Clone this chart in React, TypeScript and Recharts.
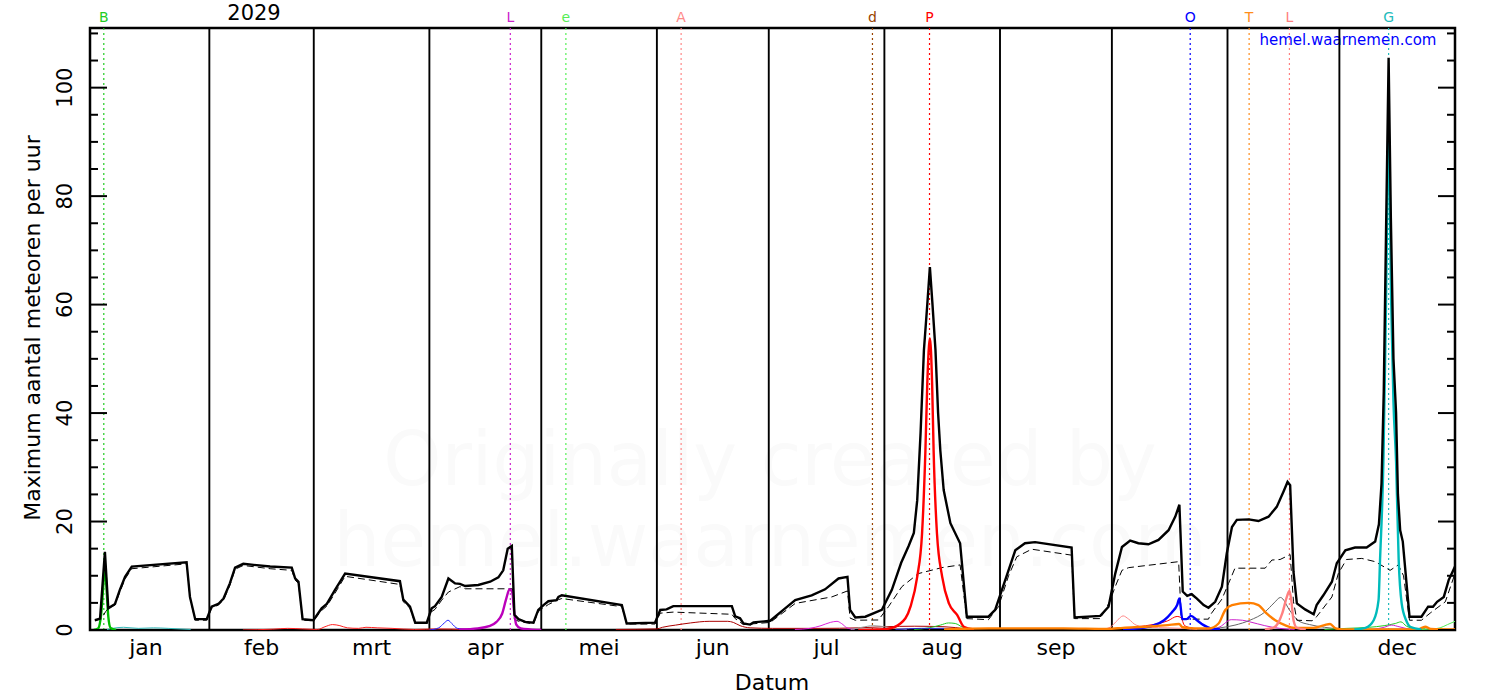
import React from 'react'
import {
  LineChart,
  Line,
  XAxis,
  YAxis,
  ReferenceLine,
  ReferenceArea,
} from 'recharts'

// day 0 = 1 jan 2029
const MONTHS = ['jan', 'feb', 'mrt', 'apr', 'mei', 'jun', 'jul', 'aug', 'sep', 'okt', 'nov', 'dec']
const MONTH_MID = [14, 45, 74.5, 105, 135.5, 166, 196.5, 227.5, 258, 288.5, 319, 349.5]
const MONTH_STARTS = [31, 59, 90, 120, 151, 181, 212, 243, 273, 304, 334]
const Y_TICKS = [0, 5, 10, 15, 20, 25, 30, 35, 40, 45, 50, 55, 60, 65, 70, 75, 80, 85, 90, 95, 100, 105, 110]

const SHOWER_LETTERS = ['B', 'L', 'e', 'A', 'd', 'P', 'O', 'T', 'L', 'G']
const SHOWER_DAYS = [2.7, 111.7, 126.6, 157.5, 208.8, 224.1, 294, 309.8, 320.6, 347.2]
const SHOWER_COLORS = ['#22cc22', '#cc22cc', '#55ee55', '#ff8888', '#994400', '#ff0000', '#0000ff', '#ff8c1a', '#ff8080', '#22bbbb']

// totaal (zwart) en achtergrond (gestreept)
const total: [number, number][] = [
  [0.3, 1.8], [1.7, 2.1], [3.0, 14.4], [3.9, 4.0], [5.7, 4.8], [7.0, 7.4], [8.4, 9.8], [10.2, 11.7],
  [24.9, 12.5], [25.8, 6.1], [27.2, 2.0], [30.3, 2.0], [31.6, 4.3], [33.4, 4.8], [34.8, 5.8], [36.5, 8.6],
  [37.9, 11.5], [40.1, 12.2], [47.3, 11.7], [53.1, 11.5], [54.0, 9.5], [54.9, 8.9], [56.0, 2.0], [58.9, 1.8],
  [61.1, 4.0], [62.5, 4.8], [64.7, 7.4], [67.4, 10.4], [82.1, 9.0], [83.0, 5.6], [84.8, 4.3], [86.2, 1.35],
  [89.3, 1.35], [90.6, 4.0], [91.5, 4.4], [93.3, 6.1], [95.1, 9.5], [96.9, 8.6], [98.2, 8.5], [99.6, 8.1],
  [103.1, 8.3], [106.3, 8.9], [108.5, 9.7], [109.8, 11.0], [111.0, 15.0], [112.1, 15.5], [112.8, 2.8],
  [113.9, 2.0], [115.7, 1.5], [117.9, 1.35], [119.2, 3.7], [120.6, 4.6], [121.9, 5.3], [124.1, 5.5],
  [124.6, 6.1], [125.5, 6.4], [141.6, 4.6], [142.9, 1.2], [150.5, 1.35], [151.9, 3.7], [153.6, 3.8],
  [155.4, 4.4], [171.1, 4.4], [172.0, 2.5], [173.3, 2.15], [174.2, 1.2], [176.0, 1.0], [176.9, 1.4],
  [181.4, 1.7], [182.7, 2.45], [184.9, 3.7], [188.1, 5.5], [192.5, 6.4], [196.1, 7.5], [199.7, 9.5],
  [202.1, 9.8], [202.8, 3.7], [204.2, 2.3], [206.9, 2.45], [211.3, 3.7], [214.0, 7.4], [216.5, 12.4],
  [218.5, 15.5], [219.9, 17.9], [220.8, 23.9], [221.7, 36.3], [222.6, 51.6], [223.5, 60], [224.2, 66.9],
  [224.9, 60], [225.7, 51.6], [226.4, 40], [227.0, 33.1], [227.9, 25.8], [229.7, 19.7], [232.3, 16.0],
  [234.1, 2.45], [239.9, 2.45], [241.7, 3.7], [244.4, 9.2], [247.1, 14.7], [249.7, 16.0], [252.4, 16.2],
  [262.2, 15.2], [263.0, 2.3], [269.9, 2.6], [272.1, 4.3], [273.9, 10.4], [275.7, 15.3], [277.9, 16.5],
  [280.1, 16.0], [282.8, 15.8], [285.5, 16.6], [288.2, 18.4], [290.0, 20.9], [291.1, 23.1], [292.0, 7.1],
  [293.2, 6.3], [294.4, 6.6], [295.8, 5.8], [297.6, 4.6], [298.9, 4.1], [300.7, 5.2], [302.5, 8.0],
  [303.8, 14.1], [305.2, 19.0], [306.5, 20.3], [309.7, 20.4], [312.3, 20.1], [315.0, 20.9], [317.2, 22.7],
  [319.0, 25.5], [320.1, 27.3], [320.8, 26.7], [321.7, 10.7], [322.6, 4.9], [324.8, 3.8], [327.1, 2.9],
  [327.9, 4.6], [329.7, 6.4], [332.0, 8.9], [333.3, 12.3], [335.6, 14.7], [338.2, 15.2], [341.3, 15.2],
  [343.6, 16.3], [344.6, 19.5], [345.3, 27], [345.9, 44], [346.5, 73], [347.2, 105.5], [347.8, 76],
  [348.5, 50], [349.2, 40], [349.7, 25], [350.3, 18.4], [351.0, 16.3], [352.8, 2.45], [356.0, 2.45],
  [357.8, 4.3], [359.1, 4.3], [360.2, 5.2], [362.0, 6.1], [363.3, 9.2], [365.0, 11.7],
]

const background: [number, number][] = [
  [0.3, 1.8], [2, 2.0], [3.2, 3.4], [3.9, 4.0], [5.7, 4.6], [7.0, 7.0], [8.4, 9.4], [10.2, 11.3],
  [24.9, 12.2], [25.8, 6.0], [27.2, 1.8], [30.3, 1.8], [31.6, 4.0], [33.4, 4.6], [34.8, 5.5], [36.5, 8.2],
  [37.9, 11.2], [40.1, 11.9], [47.3, 11.3], [53.1, 11.0], [54.0, 9.2], [54.9, 8.6], [56.0, 1.8], [58.9, 1.7],
  [61.1, 3.6], [62.5, 4.4], [64.7, 6.8], [67.4, 9.9], [82.1, 8.4], [83.0, 5.2], [84.8, 4.0], [86.2, 1.2],
  [89.3, 1.2], [90.2, 3.2], [91.5, 3.8], [93.3, 5.5], [95.1, 7.0], [98.2, 8.0], [99.6, 7.6], [112.3, 7.6],
  [112.8, 2.0], [113.9, 1.6], [117.9, 1.1], [119.2, 3.4], [121.9, 4.7], [124.6, 5.6], [125.5, 5.8],
  [141.6, 4.3], [142.9, 1.1], [150.5, 1.1], [151.9, 3.1], [155.4, 3.3], [171.1, 2.9], [172.0, 2.1],
  [174.2, 1.0], [181.4, 1.4], [188.1, 4.9], [197.9, 6.1], [202.1, 7.2], [202.8, 2.2], [204.2, 1.8],
  [210.4, 1.85], [213.1, 4.3], [216.7, 8.0], [221.1, 10.4], [227.4, 11.5], [232.3, 12.0], [234.1, 2.1],
  [239.9, 1.9], [242.6, 4.3], [245.3, 10], [247.5, 13.5], [251.5, 14.9], [262.2, 13.8], [263.0, 2.1],
  [269.9, 2.1], [272.4, 5.2], [273.9, 8.0], [275.7, 11.0], [277.5, 11.5], [290.9, 12.6], [291.6, 2.0],
  [298.9, 2.0], [299.4, 2.8], [302.5, 5.7], [304.3, 8.6], [306.0, 11.4], [314.1, 11.4], [315.9, 12.9],
  [318.1, 13.0], [320.8, 13.9], [321.7, 5.2], [322.6, 1.8], [326.7, 1.7], [327.9, 2.45], [332.0, 6.1],
  [333.7, 10.4], [335.9, 13.0], [340.0, 13.2], [343.6, 12.6], [347.6, 11.0], [349.8, 12.0], [351.2, 10],
  [352.8, 1.8], [356.0, 1.8], [358.5, 3.2], [362.4, 5.2], [365.0, 10.4],
]

// zwermen (dik)
const quadrantids: [number, number][] = [
  [0, 0], [1.2, 0.3], [2.0, 3.0], [2.6, 8.5], [3.0, 12], [3.4, 8], [3.9, 2.5], [4.5, 0.4], [6, 0],
]
const lyrids: [number, number][] = [
  [98, 0.1], [103, 0.3], [106, 0.7], [108, 1.5], [109.5, 3], [110.5, 5.5], [111.5, 7.5], [112.2, 7],
  [112.7, 3.5], [113.3, 1], [114.5, 0.3], [117, 0.1], [120, 0],
]
const perseids: [number, number][] = [
  [205, 0], [210, 0.1], [212.7, 0.2], [216.3, 1.2], [219.0, 4.3], [220.8, 9.8], [222.1, 17.8], [223.0, 33.1],
  [223.5, 45.4], [224.2, 53.8], [224.8, 45.4], [225.2, 33.1], [226.1, 17.8], [227.5, 9.8], [229.3, 4.9],
  [231.5, 2.8], [233.3, 0.6], [236, 0.1],
]
const orionids: [number, number][] = [
  [276, 0.1], [280, 0.3], [284, 0.8], [287, 1.8], [289, 3.2], [290.5, 4.6], [291.1, 5.8], [291.9, 2.0],
  [293, 2.0], [294.2, 2.6], [295.8, 1.8], [297.6, 0.9], [299.5, 0.3], [302, 0.1],
]
const taurids: [number, number][] = [
  [228, 0.1], [240, 0.3], [260, 0.3], [272, 0.2], [276, 0.4], [282, 0.6], [288, 0.9], [291, 1.1],
  [292, 0.5], [295, 0.3], [299, 0.3], [301.6, 1.2], [303.4, 3.7], [305.2, 4.6], [309.7, 5.0], [312.3, 4.6],
  [314.4, 3.1], [316.8, 1.8], [319.4, 0.9], [322, 0.4], [327, 0.4], [330, 0.9], [331.5, 1.1], [333, 0.3],
  [335, 0.1], [355, 0.1], [357, 0.6], [358.5, 0.2], [365, 0.1],
]
const leonids: [number, number][] = [
  [314, 0.1], [316.5, 0.5], [317.5, 1.2], [318.7, 3.1], [320.0, 6.3], [320.6, 7.2], [321.1, 5.5],
  [321.7, 1.8], [322.6, 0.4], [325, 0.1],
]
const geminids: [number, number][] = [
  [338, 0.1], [341, 0.4], [343.2, 1.8], [344.5, 5.5], [344.9, 12.9], [345.8, 31], [346.5, 60], [347.2, 92],
  [347.9, 60], [348.5, 42], [349.2, 31], [349.9, 12.9], [350.7, 4.9], [351.9, 1.8], [353, 0.6], [356, 0.1],
]

// kleine zwermen (dun)
const janCyan: [number, number][] = [[3, 0], [5, 0.3], [8, 0.5], [12, 0.3], [16, 0.4], [20, 0.3], [26, 0.1]]
const springRed: [number, number][] = [
  [40, 0], [48, 0.15], [52, 0.3], [56, 0.2], [60, 0.1], [62, 0.6], [64, 1.0], [66, 0.8], [68, 0.4],
  [71, 0.3], [73, 0.5], [76, 0.4], [80, 0.3], [86, 0.1], [92, 0.2], [100, 0.1],
]
const aprBlue: [number, number][] = [[90, 0], [92.5, 0.4], [94, 1.3], [95, 1.8], [96, 1.2], [97.5, 0.3], [100, 0.1]]
const summerDarkRed: [number, number][] = [
  [140, 0.1], [151, 0.2], [152.5, 0.5], [156, 0.9], [160, 1.3], [165, 1.6], [170, 1.6], [171.5, 1.4],
  [173.3, 0.8], [176, 0.4], [182, 0.3], [195, 0.3], [205, 0.4], [212, 0.6], [220, 0.7], [228, 0.6], [234, 0.2],
]
const julMagenta: [number, number][] = [
  [188, 0.1], [192, 0.3], [195, 0.8], [197.5, 1.4], [199.3, 1.6], [200.5, 1.2], [202, 0.4], [204, 0.1],
]
const augGray: [number, number][] = [[203, 0.1], [206, 0.5], [209, 0.8], [212, 0.6], [215, 0.3], [218, 0.1]]
const augGreen: [number, number][] = [[220, 0.1], [224, 0.4], [227, 0.9], [229.2, 1.3], [231, 1.2], [233, 0.5], [236, 0.1]]
const augBlue: [number, number][] = [[215, 0.1], [222, 0.3], [228, 0.3], [234, 0.1]]
const oktPink: [number, number][] = [
  [270, 0.1], [272.5, 0.5], [274.5, 1.8], [276, 2.6], [277.5, 2.0], [279.5, 0.9], [283, 0.5], [288, 0.4],
  [292, 0.3], [296, 0.1],
]
const oktRed: [number, number][] = [
  [276, 0.2], [280, 0.6], [284, 1.0], [288, 1.7], [290.5, 2.5], [291.5, 2.3], [292.5, 0.8], [295, 0.3], [300, 0.1],
]
const novMagenta: [number, number][] = [
  [300, 0.1], [302, 0.6], [305, 1.9], [308, 1.8], [310, 1.5], [314, 0.8], [318, 0.3], [322, 0.1],
]
const novGray: [number, number][] = [
  [296, 0.1], [302, 0.4], [306, 0.9], [310, 1.8], [314, 3.3], [316.5, 5], [318.2, 6.0], [320.8, 3.5],
  [323, 1.7], [326, 1.0], [330, 0.5], [334, 0.2],
]
const decGreen: [number, number][] = [
  [330, 0.1], [336, 0.3], [342, 0.5], [346, 0.8], [349, 1.2], [350.5, 1.5], [352, 0.7], [354, 0.3], [357, 0.2],
]
const ursids: [number, number][] = [[356, 0.1], [359, 0.2], [361, 0.4], [363, 1.0], [365, 1.6]]
const decMagenta: [number, number][] = [[343, 0.1], [346, 0.5], [348, 0.9], [350, 0.6], [353, 0.1]]

const FONT = '"DejaVu Sans", sans-serif'
const PLOT_L = 90
const PLOT_R = 1455
const X_MIN = -1
const X_MAX = 365
const Y_MAX = 111

const pts = (a: [number, number][]) => a.map(([d, v]) => ({ d, v }))

const thin = [
  { data: janCyan, color: '#33bbbb' },
  { data: springRed, color: '#ff2020' },
  { data: aprBlue, color: '#2222ff' },
  { data: summerDarkRed, color: '#aa0000' },
  { data: julMagenta, color: '#dd22dd' },
  { data: augGray, color: '#999999' },
  { data: augGreen, color: '#22cc22' },
  { data: augBlue, color: '#2222cc' },
  { data: oktPink, color: '#ff8888' },
  { data: oktRed, color: '#ff0000' },
  { data: novMagenta, color: '#cc22cc' },
  { data: novGray, color: '#666666' },
  { data: decGreen, color: '#22cc22' },
  { data: ursids, color: '#55ee55' },
  { data: decMagenta, color: '#cc22cc' },
]

const thick = [
  { data: quadrantids, color: '#00bb00' },
  { data: lyrids, color: '#bb00bb' },
  { data: perseids, color: '#ff0000' },
  { data: orionids, color: '#0000ff' },
  { data: taurids, color: '#ff7f00' },
  { data: leonids, color: '#ff8080' },
  { data: geminids, color: '#00bbbb' },
]

const YTick = (props: any) => {
  const { y, payload } = props
  const v = payload.value
  const major = v % 20 === 0
  const len = major ? 17 : 8
  return (
    <g>
      <line x1={PLOT_L} x2={PLOT_L + len} y1={y} y2={y} stroke="#000" strokeWidth={2} />
      <line x1={PLOT_R - len} x2={PLOT_R} y1={y} y2={y} stroke="#000" strokeWidth={2} />
      {major && (
        <text
          x={72}
          y={y}
          transform={`rotate(-90 72 ${y})`}
          textAnchor="middle"
          fontSize={21}
          fontFamily={FONT}
          fill="#000"
        >
          {v}
        </text>
      )}
    </g>
  )
}

export default function App() {
  return (
    <div style={{ position: 'absolute', left: 0, top: 0, width: 1500, height: 700, background: '#fff' }}>
      <svg width={1500} height={700} style={{ position: 'absolute', left: 0, top: 0 }}>
        <g fontFamily={FONT} fill="#fafafa" fontSize={74} textAnchor="middle">
          <text x={770} y={485}>Originally created by</text>
          <text x={770} y={566}>hemel.waarnemen.com</text>
        </g>
        <text x={254} y={20} textAnchor="middle" fontSize={21} fontFamily={FONT}>2029</text>
        <text x={1348} y={45} textAnchor="middle" fontSize={15} fontFamily={FONT} fill="#0000ff">
          hemel.waarnemen.com
        </text>
        <text x={40} y={328} transform="rotate(-90 40 328)" textAnchor="middle" fontSize={22} fontFamily={FONT}>
          Maximum aantal meteoren per uur
        </text>
        <text x={772} y={690} textAnchor="middle" fontSize={22} fontFamily={FONT}>Datum</text>
      </svg>
      <div style={{ position: 'absolute', left: 0, top: 0 }}>
        <LineChart width={1500} height={700} margin={{ top: 28, right: 45, bottom: 30, left: 30 }}>
          <XAxis
            type="number"
            dataKey="d"
            domain={[X_MIN, X_MAX]}
            ticks={MONTH_MID}
            interval={0}
            tickFormatter={(v: number) => MONTHS[MONTH_MID.indexOf(v)]}
            tickLine={false}
            axisLine={false}
            tickMargin={3}
            height={40}
            allowDataOverflow
            tick={{ fill: '#000', fontSize: 22, fontFamily: FONT }}
          />
          <YAxis
            type="number"
            domain={[0, Y_MAX]}
            ticks={Y_TICKS}
            interval={0}
            width={60}
            tickLine={false}
            axisLine={false}
            allowDataOverflow
            tick={<YTick />}
          />
          {MONTH_STARTS.map((d) => (
            <ReferenceLine key={'m' + d} x={d} stroke="#000" strokeWidth={1.9} />
          ))}
          {SHOWER_DAYS.map((d, i) => (
            <ReferenceLine
              key={'s' + i}
              x={d}
              stroke={SHOWER_COLORS[i]}
              strokeWidth={1.2}
              strokeDasharray="2 3"
              label={{ value: SHOWER_LETTERS[i], position: 'top', fill: SHOWER_COLORS[i], fontSize: 14, fontFamily: FONT, offset: 6 }}
            />
          ))}
          {thin.map((s, i) => (
            <Line
              key={'t' + i}
              data={pts(s.data)}
              dataKey="v"
              type="monotone"
              stroke={s.color}
              strokeWidth={1}
              dot={false}
              isAnimationActive={false}
            />
          ))}
          <Line
            data={pts(background)}
            dataKey="v"
            type="linear"
            stroke="#000"
            strokeWidth={1}
            strokeDasharray="7 4"
            dot={false}
            isAnimationActive={false}
          />
          {thick.map((s, i) => (
            <Line
              key={'k' + i}
              data={pts(s.data)}
              dataKey="v"
              type="monotone"
              stroke={s.color}
              strokeWidth={2.4}
              dot={false}
              isAnimationActive={false}
            />
          ))}
          <Line
            data={pts(total)}
            dataKey="v"
            type="linear"
            stroke="#000"
            strokeWidth={2.4}
            dot={false}
            isAnimationActive={false}
          />
          <ReferenceArea x1={X_MIN} x2={X_MAX} y1={0} y2={Y_MAX} fill="none" stroke="#000" strokeWidth={2.5} />
        </LineChart>
      </div>
    </div>
  )
}
